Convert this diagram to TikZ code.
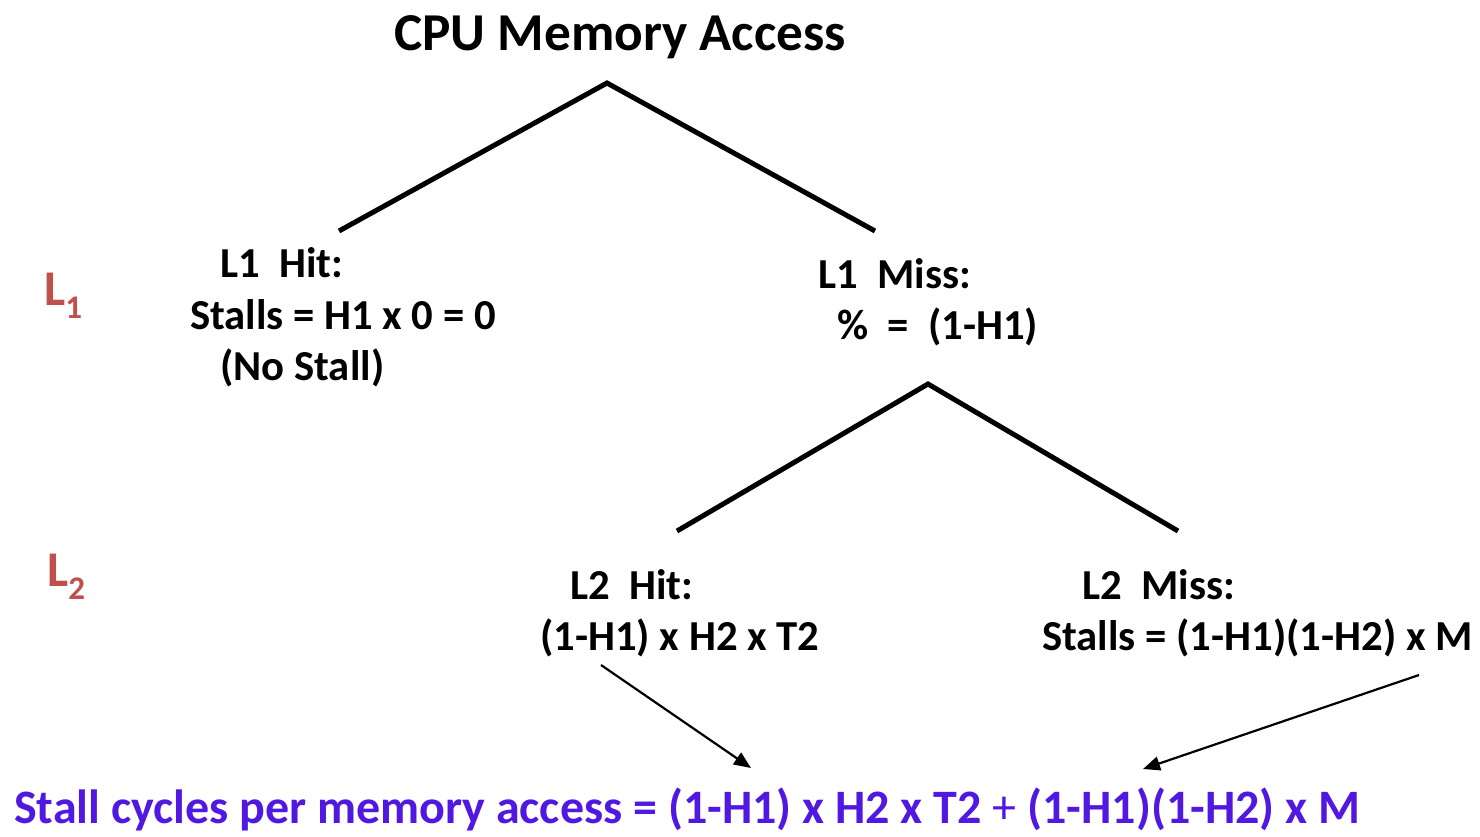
\documentclass[tikz,border=0pt]{standalone}
\usepackage{fontspec}
\setmainfont{Carlito}
\usetikzlibrary{arrows.meta}
\definecolor{lred}{RGB}{192,80,77}
\definecolor{fpurple}{RGB}{80,24,224}
\tikzset{
  lbl/.style={anchor=base west, inner sep=0pt, font=\fontsize{42.7}{50}\selectfont\bfseries},
  ttl/.style={anchor=base, inner sep=0pt, font=\fontsize{53.3}{60}\selectfont\bfseries},
  lvl/.style={anchor=base west, inner sep=0pt, text=lred, font=\fontsize{50}{56}\selectfont\bfseries},
  res/.style={anchor=base west, inner sep=0pt, text=fpurple, font=\fontsize{48}{56}\selectfont\bfseries},
  branch/.style={line width=5pt},
  pointer/.style={line width=2.2pt, -{Triangle[length=17pt,width=14pt]}},
}
\newcommand{\lsub}[1]{\raisebox{-0.26em}{\fontsize{33}{33}\selectfont #1}}
\begin{document}
\begin{tikzpicture}[x=1pt,y=-1pt]
\useasboundingbox (0,0) rectangle (1480,836);
% title
\node[ttl] (title) at (620,50) {CPU Memory Access};
% level labels
\node[lvl] (lone) at (44,305) {L\lsub{1}};
\node[lvl] (ltwo) at (47,586) {L\lsub{2}};
% L1 hit
\node[lbl] (hitA) at (220,277) {L1\ \ Hit:};
\node[lbl] (hitB) at (190,329) {Stalls = H1 x 0 = 0};
\node[lbl] (hitC) at (220,380) {(No Stall)};
% L1 miss
\node[lbl] (missA) at (818,288) {L1\ \ Miss:};
\node[lbl] (missB) at (837,339) {\%\ \ =\ \ (1-H1)};
% L2 hit
\node[lbl] (hit2A) at (570,599) {L2\ \ Hit:};
\node[lbl] (hit2B) at (540,650) {(1-H1) x H2 x T2};
% L2 miss
\node[lbl] (miss2A) at (1082,599) {L2\ \ Miss:};
\node[lbl] (miss2B) at (1042,650) {Stalls = (1-H1)(1-H2) x M};
% result
\node[res] (result) at (14,823) {Stall cycles per memory access = (1-H1) x H2 x T2 \textmd{+} (1-H1)(1-H2) x M};
% tree branches
\coordinate (rootA) at (607,83);
\coordinate (lefA) at (339,231);
\coordinate (rigA) at (875,231);
\coordinate (rootB) at (928,384);
\coordinate (lefB) at (677,531);
\coordinate (rigB) at (1178,531);
\draw[branch] (lefA) -- (rootA) -- (rigA);
\draw[branch] (lefB) -- (rootB) -- (rigB);
% pointers
\coordinate (pa) at (601,665);
\coordinate (pb) at (751,768);
\coordinate (pc) at (1419,675);
\coordinate (pd) at (1143,769);
\draw[pointer] (pa) -- (pb);
\draw[pointer] (pc) -- (pd);
\end{tikzpicture}
\end{document}
